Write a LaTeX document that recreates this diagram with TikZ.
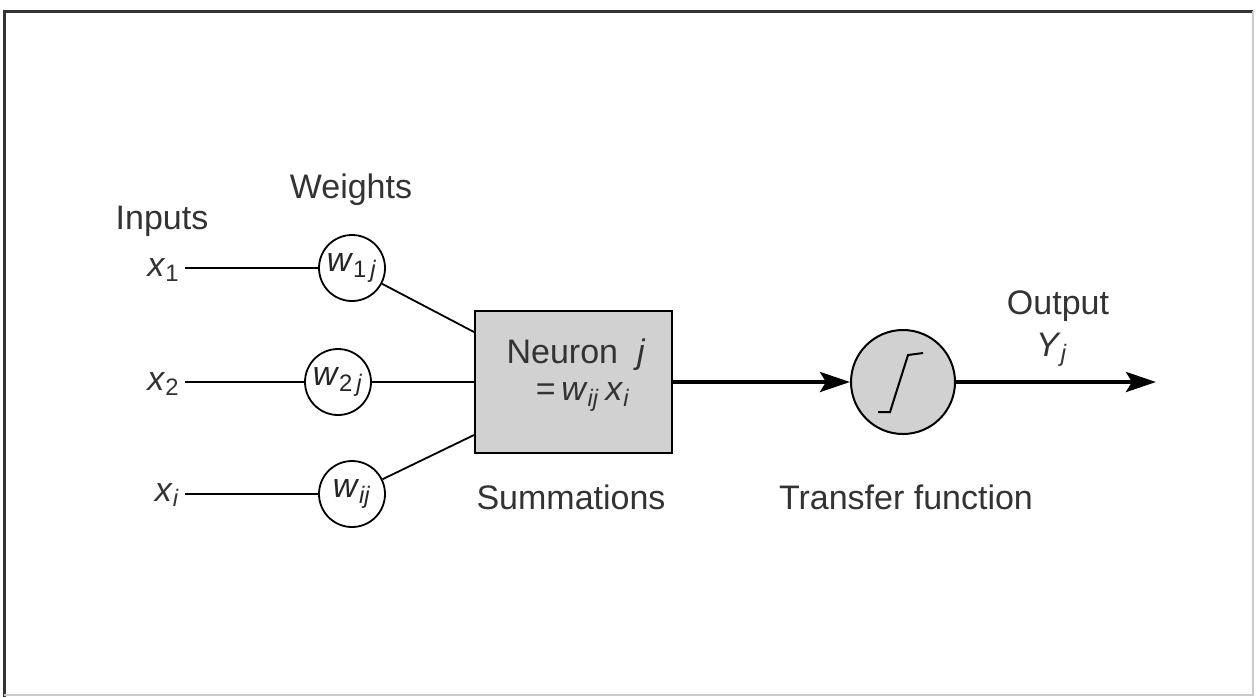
\documentclass[tikz,border=0pt]{standalone}
\usepackage{fontspec}
\setmainfont{Liberation Sans}
\usetikzlibrary{arrows.meta,calc}
\begin{document}
\begin{tikzpicture}[x=0.5pt,y=-0.5pt,
  lbl/.style={font=\fontsize{17}{19}\selectfont, text=black!80, inner sep=0pt},
  wgt/.style={circle, draw, line width=0.9pt, minimum size=33pt, inner sep=0pt, font=\fontsize{17}{18}\selectfont, text=black!85},
  wire/.style={line width=0.9pt},
  bold/.style={line width=2pt, -{Stealth[length=15pt,width=10pt,inset=3pt]}}]
\useasboundingbox (0,0) rectangle (1256,697);
% frame
\draw[line width=1.5pt, black!80] (4,697) -- (4,11) -- (1253,11);
\draw[line width=0.8pt, black!20] (1253,11) -- (1253,695) -- (4,695);
% labels
\node[lbl] (inputs) at (162,221) {Inputs};
\node[lbl] (weights) at (351,190) {Weights};
\node[lbl, anchor=east] (x1) at (180,270) {\textit{x}\textsubscript{1}};
\node[lbl, anchor=east] (x2) at (180,384) {\textit{x}\textsubscript{2}};
\node[lbl, anchor=east] (xi) at (180,495) {\textit{x}\textsubscript{\textit{i}}};
% weights
\node[wgt] (w1) at (352,268) {\textit{w}\textsubscript{1\,\textit{j}}};
\node[wgt] (w2) at (338,382) {\textit{w}\textsubscript{2\,\textit{j}}};
\node[wgt] (wi) at (352,494) {\textit{w}\textsubscript{\textit{ij}}};
% neuron box
\node[draw, fill=black!18, line width=1pt, minimum width=98.5pt, minimum height=71pt, inner sep=0pt] (neuron) at (573.5,382) {};
\node[lbl] (ntext) at (576,355) {Neuron \ \textit{j}};
\node[lbl] (ntext2) at (583,397) {=\,\textit{w}\textsubscript{\textit{ij}}\,\textit{x}\textsubscript{\textit{i}}};
\node[lbl] (summ) at (571,497) {Summations};
% transfer
\node[circle, draw, fill=black!18, line width=1pt, minimum size=52pt, inner sep=0pt] (tf) at (903,382) {};
\node[lbl] (tflabel) at (906,497) {Transfer function};
\draw[line width=1pt] ($(tf)+(-25,30)$) -- ($(tf)+(-13,30)$) -- ($(tf)+(5,-27)$) -- ($(tf)+(20,-29)$);
% output
\node[lbl] (output) at (1058,306) {Output};
\node[lbl] (yj) at (1052,350) {\textit{Y}\textsubscript{\textit{j}}};
\coordinate (out) at (1156,382);
% connectors
\draw[wire] ($(x1.east)+(5,-2)$) -- (w1);
\draw[wire] ($(x2.east)+(5,-2)$) -- (w2);
\draw[wire] ($(xi.east)+(5,-1)$) -- (wi);
\draw[wire] (w1) -- ($(neuron.west)+(0,-50)$);
\draw[wire] (w2) -- (neuron.west);
\draw[wire] (wi) -- ($(neuron.west)+(0,53)$);
\draw[bold] (neuron.east) -- (tf.west);
\draw[bold] (tf.east) -- (out);
\end{tikzpicture}
\end{document}
